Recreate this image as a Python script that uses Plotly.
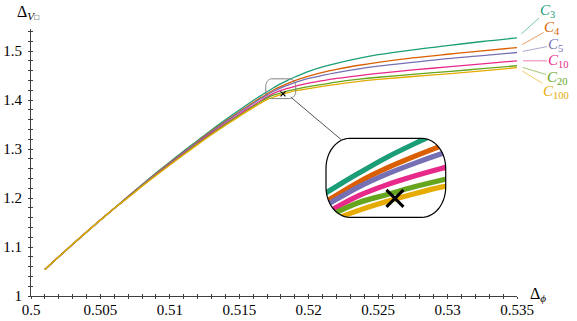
import math
import plotly.graph_objects as go

# ---------------- data ----------------
DELTA_PHI = [0.501, 0.502, 0.503, 0.504, 0.505, 0.506, 0.507, 0.508, 0.509, 0.510,
             0.511, 0.512, 0.513, 0.514, 0.515, 0.516, 0.5165, 0.517, 0.5175, 0.518,
             0.5185, 0.519, 0.5195, 0.520, 0.521, 0.522, 0.5235, 0.525, 0.5275, 0.530,
             0.5325, 0.535]

C3 = [1.054, 1.080, 1.1055, 1.1305, 1.155, 1.179, 1.2035, 1.2275, 1.251, 1.2735,
      1.296, 1.3175, 1.339, 1.3595, 1.3795, 1.399, 1.408, 1.417, 1.4255, 1.4335,
      1.4405, 1.447, 1.453, 1.4585, 1.4675, 1.475, 1.4845, 1.4925, 1.5025, 1.511,
      1.5195, 1.527]
C4 = [1.054, 1.080, 1.1055, 1.1305, 1.155, 1.179, 1.203, 1.2265, 1.2495, 1.272,
      1.294, 1.3155, 1.3365, 1.3565, 1.376, 1.395, 1.404, 1.4125, 1.421, 1.428,
      1.434, 1.4395, 1.4445, 1.449, 1.4565, 1.4625, 1.4705, 1.477, 1.486, 1.4935,
      1.5005, 1.507]
C5 = [1.054, 1.080, 1.1055, 1.1305, 1.155, 1.179, 1.2025, 1.226, 1.2485, 1.271,
      1.293, 1.314, 1.335, 1.355, 1.3745, 1.393, 1.402, 1.4105, 1.4185, 1.425,
      1.4305, 1.4355, 1.44, 1.444, 1.4505, 1.456, 1.463, 1.469, 1.477, 1.4845,
      1.4905, 1.497]
C10 = [1.054, 1.080, 1.1055, 1.1305, 1.155, 1.179, 1.202, 1.225, 1.2475, 1.2695,
       1.291, 1.312, 1.3325, 1.352, 1.371, 1.389, 1.398, 1.4065, 1.414, 1.4195,
       1.424, 1.428, 1.4315, 1.4345, 1.4395, 1.444, 1.4495, 1.4545, 1.4615, 1.4675,
       1.474, 1.480]
C20 = [1.054, 1.080, 1.1055, 1.1305, 1.155, 1.179, 1.2015, 1.2245, 1.2465, 1.268,
       1.2895, 1.3105, 1.3305, 1.35, 1.3685, 1.3865, 1.3955, 1.404, 1.4105, 1.4145,
       1.4185, 1.422, 1.425, 1.4275, 1.432, 1.4365, 1.442, 1.4465, 1.4525, 1.458,
       1.464, 1.470]
C100 = [1.054, 1.080, 1.1055, 1.1305, 1.155, 1.179, 1.201, 1.224, 1.246, 1.2675,
        1.2885, 1.309, 1.329, 1.348, 1.3665, 1.3845, 1.393, 1.401, 1.4065, 1.411,
        1.415, 1.4185, 1.421, 1.4235, 1.428, 1.432, 1.4375, 1.442, 1.448, 1.4535,
        1.4595, 1.466]

SERIES_NAMES = ["3", "4", "5", "10", "20", "100"]
SERIES = [C3, C4, C5, C10, C20, C100]
COLORS = ["#1b9e77", "#d95f02", "#7570b3", "#e7298a", "#66a61e", "#e6ab02"]

ISING_X = 0.51815
ISING_Y = 1.41263

X_TICKS = [0.5, 0.505, 0.51, 0.515, 0.52, 0.525, 0.53, 0.535]
X_TICK_LABELS = ["0.5", "0.505", "0.51", "0.515", "0.52", "0.525", "0.53", "0.535"]
Y_TICKS = [1.0, 1.1, 1.2, 1.3, 1.4, 1.5]
Y_TICK_LABELS = ["1", "1.1", "1.2", "1.3", "1.4", "1.5"]

# ---------------- layout geometry ----------------
W, H = 577, 321
ML, MR, MT, MB = 31, 60, 29, 25
XR = [0.5, 0.535]
YR = [1.0, 1.545]
PW, PH = W - ML - MR, H - MT - MB

# spy (magnified) region in data units and the inset placement in pixels
MAG = 4.0
INSET_PX = (326, 138.3, 445.7, 217.3)  # left, top, right, bottom
ix0, iy0, ix1, iy1 = INSET_PX
RX, RY = 24, 30  # corner radii of the inset outline (px)
spy_w = (ix1 - ix0) / MAG / PW * (XR[1] - XR[0])
spy_h = (iy1 - iy0) / MAG / PH * (YR[1] - YR[0])
SPY_X = [ISING_X - 0.576 * spy_w, ISING_X + 0.424 * spy_w]
SPY_Y = [ISING_Y - 0.24 * spy_h, ISING_Y + 0.76 * spy_h]


def d2px(x, y):
    return (ML + (x - XR[0]) / (XR[1] - XR[0]) * PW,
            MT + (YR[1] - y) / (YR[1] - YR[0]) * PH)


def px2p(px, py):
    return ((px - ML) / PW, (H - MB - py) / PH)


def rrect_pts(l, t, r, b, rx, ry, n=14, ccw=False):
    pts = []
    corners = [(r - rx, t + ry, -90, 0), (r - rx, b - ry, 0, 90),
               (l + rx, b - ry, 90, 180), (l + rx, t + ry, 180, 270)]
    for cx, cy, a0, a1 in corners:
        for k in range(n + 1):
            a = math.radians(a0 + (a1 - a0) * k / n)
            pts.append((cx + rx * math.cos(a), cy + ry * math.sin(a)))
    if ccw:
        pts = pts[::-1]
    return pts


def inside_rrect(px, py, l, t, r, b, rx, ry):
    if px < l or px > r or py < t or py > b:
        return False
    cx = min(max(px, l + rx), r - rx)
    cy = min(max(py, t + ry), b - ry)
    return ((px - cx) / rx) ** 2 + ((py - cy) / ry) ** 2 <= 1.0


def path_from(pts, close=True):
    s = ""
    for i, (px, py) in enumerate(pts):
        x, y = px2p(px, py)
        s += ("M" if i == 0 else "L") + f"{x:.5f},{y:.5f} "
    return s + ("Z" if close else "")


fig = go.Figure()
FONT = "Liberation Serif, DejaVu Serif, serif"
AX = "#404040"

# main curves
for name, ys, col in zip(SERIES_NAMES, SERIES, COLORS):
    fig.add_trace(go.Scatter(x=DELTA_PHI, y=ys, mode="lines",
                             line=dict(color=col, width=1.3, shape="spline", smoothing=1.0),
                             showlegend=False, hoverinfo="skip"))
fig.add_trace(go.Scatter(x=[ISING_X], y=[ISING_Y], mode="markers",
                         marker=dict(symbol="x-thin", size=5, line=dict(color="black", width=1.2)),
                         showlegend=False, hoverinfo="skip"))

# inset (magnified) curves
for name, ys, col in zip(SERIES_NAMES, SERIES, COLORS):
    fig.add_trace(go.Scatter(x=DELTA_PHI, y=ys, mode="lines", xaxis="x2", yaxis="y2",
                             line=dict(color=col, width=1.3 * MAG, shape="spline", smoothing=1.0),
                             showlegend=False, hoverinfo="skip"))
fig.add_trace(go.Scatter(x=[ISING_X], y=[ISING_Y], mode="markers", xaxis="x2", yaxis="y2",
                         marker=dict(symbol="x-thin", size=17, line=dict(color="black", width=3)),
                         showlegend=False, hoverinfo="skip"))

# overlay axes to get ticks crossing the axis lines
fig.add_trace(go.Scatter(x=[XR[0]], y=[YR[0]], xaxis="x3", yaxis="y3", mode="markers",
                         marker=dict(opacity=0), showlegend=False, hoverinfo="skip"))

dx0, dy0 = px2p(ix0, iy1)
dx1, dy1 = px2p(ix1, iy0)

tickfont = dict(family=FONT, size=15, color="black")
fig.update_layout(
    width=W, height=H, margin=dict(l=ML, r=MR, t=MT, b=MB, autoexpand=False),
    paper_bgcolor="white", plot_bgcolor="rgba(0,0,0,0)",
    xaxis=dict(range=XR, showgrid=False, zeroline=False, showline=True, linecolor=AX, linewidth=1,
               automargin=False, ticklabelstandoff=-2,
               ticks="outside", ticklen=2, tickcolor=AX, tickvals=X_TICKS, ticktext=X_TICK_LABELS,
               tickfont=tickfont, minor=dict(ticks="outside", ticklen=2, tick0=0.5, dtick=0.001, tickcolor=AX)),
    yaxis=dict(range=YR, showgrid=False, zeroline=False, showline=True, linecolor=AX, linewidth=1,
               automargin=False,
               ticks="outside", ticklen=2, tickcolor=AX, tickvals=Y_TICKS, ticktext=Y_TICK_LABELS,
               tickfont=tickfont, ticklabelstandoff=3,
               minor=dict(ticks="outside", ticklen=2, tick0=1.0, dtick=0.02, tickcolor=AX)),
    xaxis3=dict(range=XR, overlaying="x", anchor="y", showgrid=False, zeroline=False, showline=False,
                automargin=False,
                ticks="inside", ticklen=2, tickcolor=AX, tickvals=X_TICKS, showticklabels=False,
                minor=dict(ticks="inside", ticklen=2, tick0=0.5, dtick=0.001, tickcolor=AX)),
    yaxis3=dict(range=YR, overlaying="y", anchor="x", showgrid=False, zeroline=False, showline=False,
                automargin=False,
                ticks="inside", ticklen=2, tickcolor=AX, tickvals=Y_TICKS, showticklabels=False,
                minor=dict(ticks="inside", ticklen=2, tick0=1.0, dtick=0.02, tickcolor=AX)),
    xaxis2=dict(domain=[dx0, dx1], range=SPY_X, anchor="y2", visible=False, automargin=False),
    yaxis2=dict(domain=[dy0, dy1], range=SPY_Y, anchor="x2", visible=False, automargin=False),
)

# inset: mask corners outside the rounded outline
outer = [(ix0 - 4, iy0 - 4), (ix1 + 4, iy0 - 4), (ix1 + 4, iy1 + 4), (ix0 - 4, iy1 + 4)]
inner = rrect_pts(ix0, iy0, ix1, iy1, RX, RY, ccw=True)
fig.add_shape(type="path", xref="paper", yref="paper", layer="above",
              path=path_from(outer) + " " + path_from(inner),
              fillcolor="white", line=dict(width=0))
fig.add_shape(type="path", xref="paper", yref="paper", layer="above",
              path=path_from(rrect_pts(ix0, iy0, ix1, iy1, RX, RY)),
              line=dict(color="black", width=1.2))

# spy box in the main plot
sx0, sy0 = d2px(SPY_X[0], SPY_Y[1])
sx1, sy1 = d2px(SPY_X[1], SPY_Y[0])
fig.add_shape(type="path", xref="paper", yref="paper", layer="above",
              path=path_from(rrect_pts(sx0, sy0, sx1, sy1, RX / MAG, RY / MAG)),
              line=dict(color="#808080", width=1))

# connector from spy box to the inset outline
ax0, ay0 = sx1 - 5, sy1 - 1.5
dirx, diry = 54.0, 45.5
norm = math.hypot(dirx, diry)
dirx, diry = dirx / norm, diry / norm
tx, ty = ax0, ay0
for step in range(400):
    px_, py_ = ax0 + dirx * step * 0.5, ay0 + diry * step * 0.5
    if inside_rrect(px_, py_, ix0, iy0, ix1, iy1, RX, RY):
        tx, ty = px_, py_
        break
fig.add_shape(type="path", xref="paper", yref="paper", layer="above",
              path=path_from([(ax0, ay0), (tx, ty)], close=False),
              line=dict(color="#555555", width=1))

# series labels with leader lines
LABEL_OFFSETS = [(30, -27), (35, -20), (38, -7.5), (41, 0), (40, 12), (39, 24)]
for name, ys, col, (oxp, oyp) in zip(SERIES_NAMES, SERIES, COLORS, LABEL_OFFSETS):
    r_, g_, b_ = int(col[1:3], 16), int(col[3:5], 16), int(col[5:7], 16)
    fig.add_annotation(x=DELTA_PHI[-1], y=ys[-1], xref="x", yref="y", ax=oxp, ay=oyp,
                       text=f"<i>C</i><sub>{name}</sub>", showarrow=True, arrowhead=0,
                       arrowwidth=1, arrowcolor=f"rgba({r_},{g_},{b_},0.6)", standoff=6,
                       font=dict(family=FONT, size=15, color=col), borderpad=0)

# axis titles
x, y = px2p(528, 294)
fig.add_annotation(x=x, y=y, xref="paper", yref="paper", xanchor="left", yanchor="middle",
                   text="Δ<sub><i>ϕ</i></sub>", showarrow=False, font=dict(family=FONT, size=16, color="black"))
x, y = px2p(15, 12)
fig.add_annotation(x=x, y=y, xref="paper", yref="paper", xanchor="left", yanchor="middle",
                   text="Δ<sub><i>V</i><span style='font-size:8px'>□</span></sub>", showarrow=False,
                   font=dict(family=FONT, size=16, color="black"))

fig.write_html("out.html", config={"displayModeBar": False, "staticPlot": True},
               post_script="document.body.style.margin='0';document.body.style.padding='0';")
